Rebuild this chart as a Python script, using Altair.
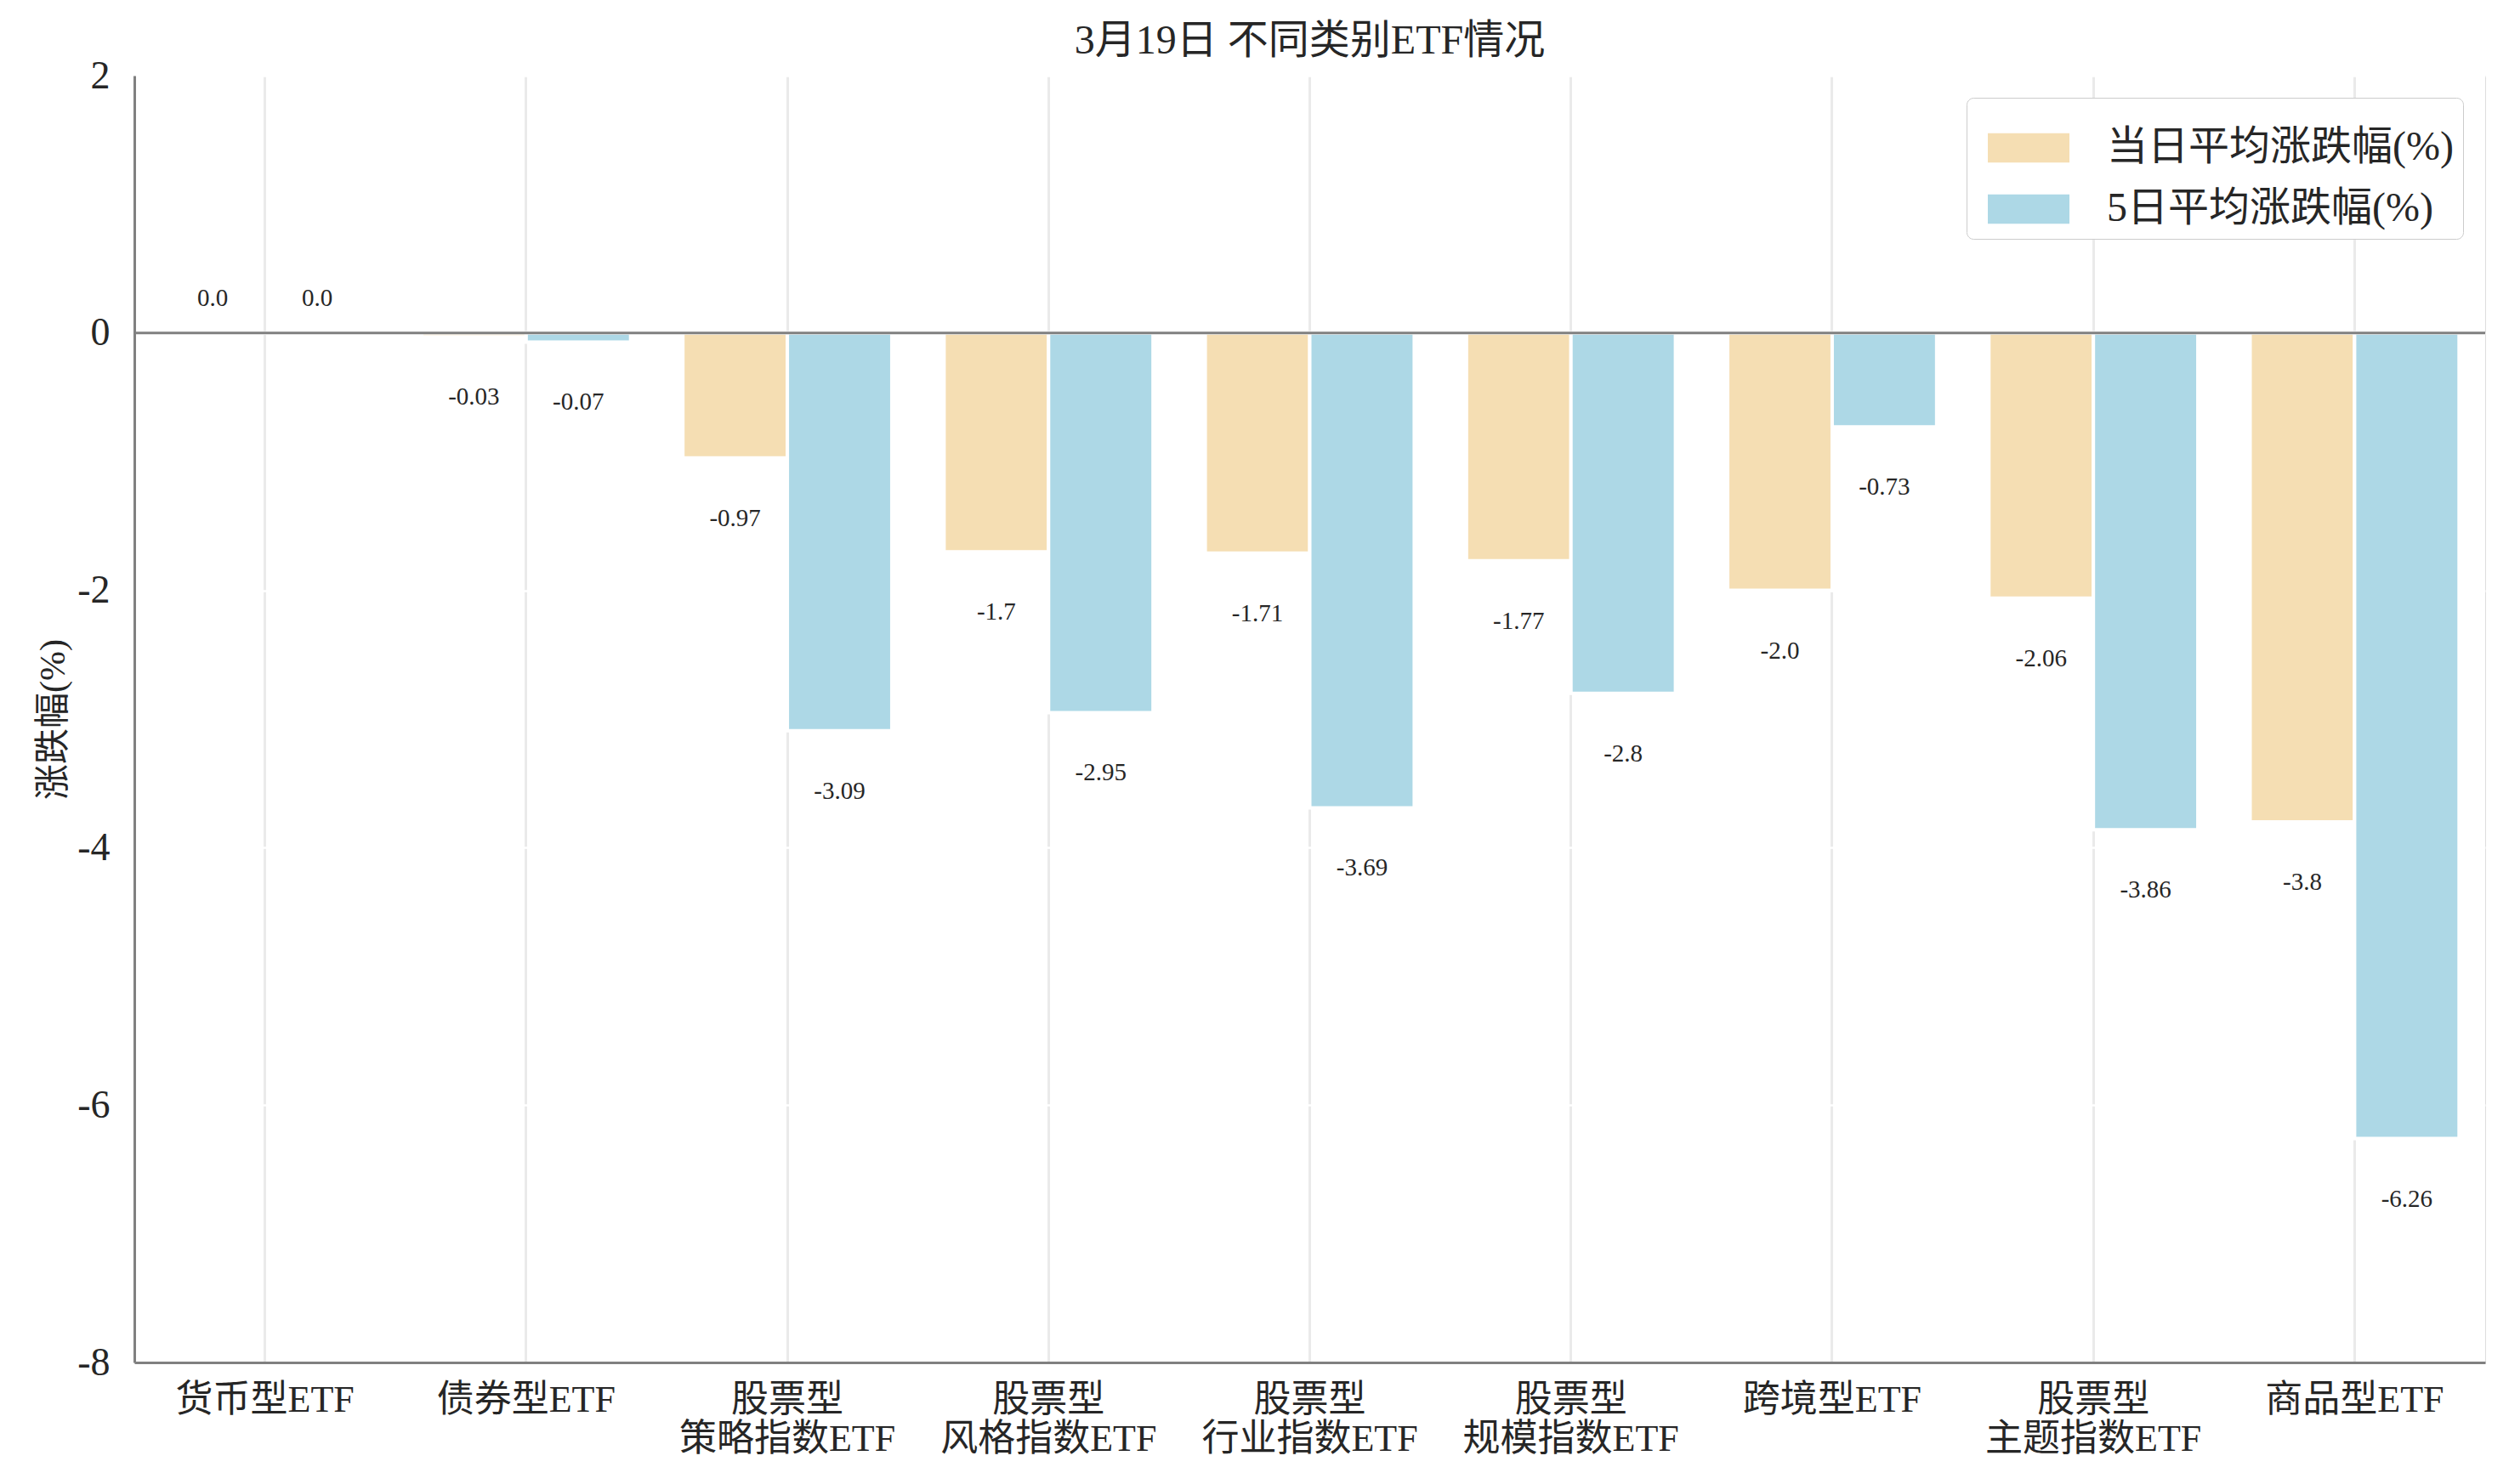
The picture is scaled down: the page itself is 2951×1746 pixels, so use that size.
import altair as alt
import pandas as pd

categories = ["货币型ETF", "债券型ETF", "股票型\n策略指数ETF", "股票型\n风格指数ETF",
              "股票型\n行业指数ETF", "股票型\n规模指数ETF", "跨境型ETF",
              "股票型\n主题指数ETF", "商品型ETF"]
daily = [0.0, -0.03, -0.97, -1.7, -1.71, -1.77, -2.0, -2.06, -3.8]
five_day = [0.0, -0.07, -3.09, -2.95, -3.69, -2.8, -0.73, -3.86, -6.26]
series_names = ["当日平均涨跌幅(%)", "5日平均涨跌幅(%)"]
colors = ["#F5DEB3", "#ADD8E6"]
y_ticks = [-8, -6, -4, -2, 0, 2]

rows = []
for c, d, f in zip(categories, daily, five_day):
    rows.append({"cat": c, "series": series_names[0], "value": d, "label": f"{d}"})
    rows.append({"cat": c, "series": series_names[1], "value": f, "label": f"{f}"})
df = pd.DataFrame(rows)

FONT = "Liberation Serif, Noto Sans CJK SC"
TXT = "#262626"

x_enc = alt.X("cat:N", sort=categories, title=None,
              scale=alt.Scale(paddingInner=0.2, paddingOuter=0.1),
              axis=alt.Axis(labelAngle=0, labelExpr="split(datum.label, '\\n')",
                            grid=True, bandPosition=0.5, gridColor="#EAEAEA",
                            gridWidth=3, ticks=False, labelPadding=22,
                            labelFontSize=44, labelLineHeight=46, labelLimit=800,
                            labelFont=FONT, labelColor=TXT,
                            domainColor="#808080", domainWidth=3))
y_scale = alt.Scale(domain=[-8, 2], nice=False)
xo = alt.XOffset("series:N", sort=series_names, scale=alt.Scale(paddingInner=0))

base = alt.Chart(df)

bars = base.mark_bar(stroke="white", strokeWidth=4).encode(
    x=x_enc,
    xOffset=xo,
    y=alt.Y("value:Q", scale=y_scale, title="涨跌幅(%)",
            axis=alt.Axis(values=y_ticks, ticks=False, labelPadding=29,
                          labelExpr="datum.value + ''",
                          labelFont=FONT, titleFont=FONT,
                          labelColor=TXT, titleColor=TXT,
                          labelFontSize=46, titleFontSize=42, titlePadding=6,
                          grid=True, gridColor="white", gridWidth=2.5,
                          domainColor="#808080", domainWidth=3,
                          titleFontWeight="normal")),
    color=alt.Color("series:N", sort=series_names,
                    scale=alt.Scale(domain=series_names, range=colors),
                    legend=alt.Legend(title=None, orient="top-right", offset=26,
                                      fillColor="white", strokeColor="#CCCCCC",
                                      cornerRadius=8, padding=11,
                                      labelFontSize=48, labelFont=FONT,
                                      labelColor=TXT, labelLimit=800,
                                      symbolType="M-1,-0.36H1V0.36H-1Z",
                                      symbolSize=9216, symbolStrokeWidth=0,
                                      symbolOpacity=1, rowPadding=0,
                                      symbolOffset=14, labelOffset=44)),
)

zero = alt.Chart(pd.DataFrame({"v": [0]})).mark_rule(color="#808080", strokeWidth=3).encode(
    y=alt.Y("v:Q", scale=y_scale)
)

neg_text = base.transform_filter("datum.value < 0").mark_text(
    fontSize=29, dy=71, color=TXT, font=FONT).encode(
    x=alt.X("cat:N", sort=categories), xOffset=xo,
    y=alt.Y("value:Q", scale=y_scale), text="label:N")

pos_text = base.transform_filter("datum.value >= 0").mark_text(
    fontSize=29, dy=-41, color=TXT, font=FONT).encode(
    x=alt.X("cat:N", sort=categories), xOffset=xo,
    y=alt.Y("value:Q", scale=y_scale), text="label:N")

chart = alt.layer(bars, zero, neg_text, pos_text).properties(
    width=2765, height=1514,
    title=alt.TitleParams("3月19日 不同类别ETF情况", fontSize=48, font=FONT,
                          fontWeight="normal", color=TXT, offset=-7),
    padding={"left": 33, "top": 17, "right": 5, "bottom": 0},
).configure_view(fill="#F4F4F4", stroke=None).configure(background="white")

chart.save("out.html", embed_options={"renderer": "svg", "actions": False})
